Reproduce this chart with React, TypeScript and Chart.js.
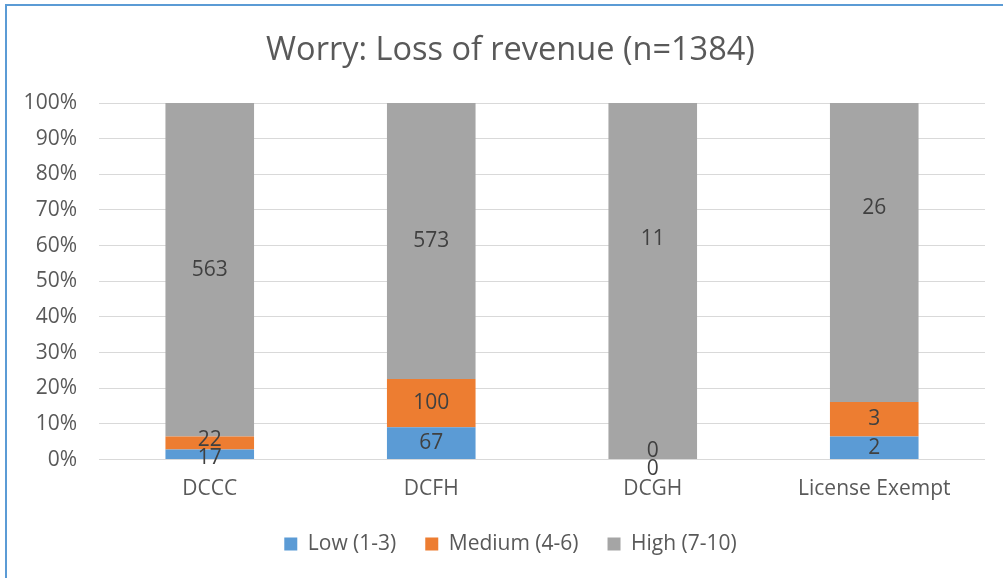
import React, { useEffect, useRef } from "react";
import { Chart, registerables } from "chart.js";

Chart.register(...registerables);

const categories = ["DCCC", "DCFH", "DCGH", "License Exempt"];
const lowCounts = [17, 67, 0, 2];
const mediumCounts = [22, 100, 0, 3];
const highCounts = [563, 573, 11, 26];
const seriesNames = ["Low (1-3)", "Medium (4-6)", "High (7-10)"];
const seriesColors = ["#5B9BD5", "#ED7D31", "#A5A5A5"];
const chartTitle = "Worry: Loss of revenue (n=1384)";
const yTickStep = 10;

const FONT = "'Open Sans', 'Noto Sans', sans-serif";
const TEXT = "#595959";
const FS = 21;

const allCounts = [lowCounts, mediumCounts, highCounts];
const totals = categories.map((_, i) => allCounts.reduce((s, a) => s + a[i], 0));
const toPct = (arr: number[]) => arr.map((v, i) => (totals[i] ? (v / totals[i]) * 100 : 0));

const segLabels = {
  id: "segLabels",
  afterDatasetsDraw(chart: any, _args: any, opts: any) {
    const ctx = chart.ctx;
    ctx.save();
    ctx.font = `${opts.size}px ${FONT}`;
    ctx.fillStyle = opts.color;
    ctx.textAlign = "center";
    ctx.textBaseline = "middle";
    const n = chart.data.labels.length;
    for (let i = 0; i < n; i++) {
      const items: any[] = [];
      chart.data.datasets.forEach((ds: any, d: number) => {
        const el = chart.getDatasetMeta(d).data[i];
        items.push({ x: el.x, y: (el.y + el.base) / 2, text: String(ds.counts[i]), d });
      });
      const gap = opts.minGap;
      for (let k = 1; k < items.length; k++) {
        const a = items[k - 1];
        const b = items[k];
        if (a.y - b.y < gap) {
          const m = (a.y + b.y) / 2;
          a.y = m + gap / 2;
          b.y = m - gap / 2;
        }
      }
      items.forEach((it) => {
        let dy = 0;
        (opts.nudges || []).forEach((nd: number[]) => {
          if (nd[0] === it.d && nd[1] === i) dy = nd[2];
        });
        ctx.fillText(it.text, it.x, it.y + dy);
      });
    }
    ctx.restore();
  },
};

export default function App() {
  const ref = useRef<HTMLCanvasElement | null>(null);

  useEffect(() => {
    if (!ref.current) return;
    const chart = new Chart(ref.current, {
      type: "bar",
      data: {
        labels: categories,
        datasets: allCounts.map((counts, d) => ({
          label: seriesNames[d],
          data: toPct(counts),
          counts,
          backgroundColor: seriesColors[d],
          borderWidth: 0,
          barPercentage: 0.4,
          categoryPercentage: 1.0,
        })) as any,
      },
      options: {
        animation: false,
        responsive: false,
        maintainAspectRatio: false,
        layout: { padding: { left: 36, right: 18, top: 0, bottom: 13.4 } },
        plugins: {
          title: {
            display: true,
            text: chartTitle,
            color: TEXT,
            font: { family: FONT, size: 32.5, weight: "normal" },
            padding: { top: 31, bottom: 33 },
          },
          legend: {
            position: "bottom",
            labels: {
              boxWidth: 13,
              boxHeight: 13,
              padding: 29,
              color: TEXT,
              font: { family: FONT, size: FS },
            },
          },
          tooltip: { enabled: false },
          segLabels: {
            size: FS,
            color: "#404040",
            minGap: 18,
            nudges: [
              [2, 2, -42],
              [2, 3, -45],
            ],
          },
        } as any,
        scales: {
          x: {
            stacked: true,
            grid: { display: false },
            border: { display: false },
            ticks: { color: TEXT, font: { family: FONT, size: FS }, padding: 9 },
            afterFit: (s: any) => {
              s.height = 45;
            },
          },
          y: {
            stacked: true,
            min: 0,
            max: 100,
            border: { display: false },
            grid: { color: "#D9D9D9", lineWidth: 1, drawTicks: false },
            ticks: {
              stepSize: yTickStep,
              color: TEXT,
              font: { family: FONT, size: FS },
              padding: 22,
              callback: (v: any) => `${v}%`,
            },
            afterFit: (s: any) => {
              s.width = 63;
              s._computeLabelArea = () => undefined;
            },
          },
        },
      },
      plugins: [segLabels],
    });
    return () => chart.destroy();
  }, []);

  return (
    <div style={{ position: "absolute", left: 0, top: 0, width: 1003, height: 578, overflow: "hidden", background: "#fff" }}>
      <div
        style={{
          position: "absolute",
          left: 5,
          top: 4,
          right: -10,
          bottom: -10,
          borderLeft: "2px solid #5B9BD5",
          borderTop: "2px solid #5B9BD5",
        }}
      />
      <canvas ref={ref} width={1003} height={578} style={{ position: "absolute", left: 0, top: 0, width: 1003, height: 578 }} />
    </div>
  );
}
